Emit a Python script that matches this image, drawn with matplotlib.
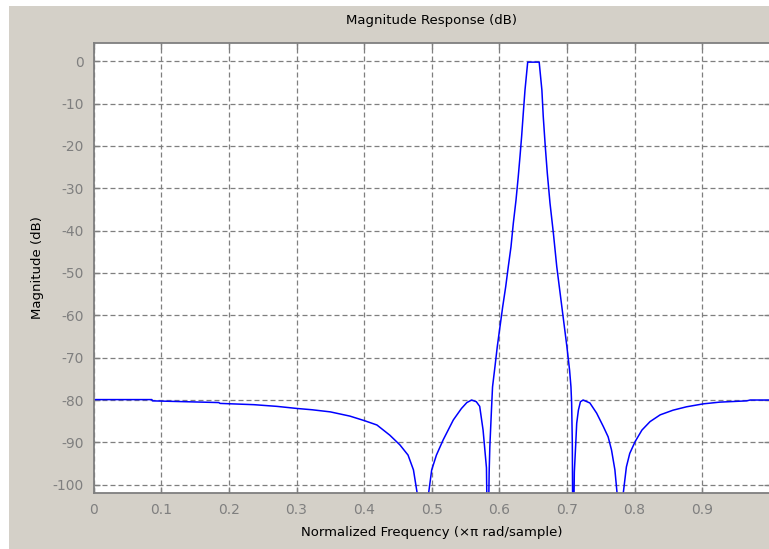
import matplotlib
matplotlib.use("Agg")
import matplotlib.pyplot as plt
from matplotlib.patches import Rectangle

# magnitude response (normalized freq, dB)
freq = [0.000, 0.086, 0.087, 0.185, 0.187, 0.237, 0.271, 0.301, 0.323, 0.350,
        0.379, 0.401, 0.419, 0.438, 0.453, 0.465, 0.473, 0.479, 0.487, 0.495,
        0.500, 0.507, 0.517, 0.532, 0.544, 0.552, 0.559, 0.566, 0.571, 0.576,
        0.581, 0.583, 0.585, 0.586, 0.5885, 0.590, 0.5936, 0.597, 0.601, 0.605,
        0.6095, 0.6133, 0.6173, 0.6207, 0.6247, 0.628, 0.6306, 0.633, 0.6355, 0.638,
        0.642, 0.659, 0.663, 0.665, 0.668, 0.671, 0.675, 0.680, 0.685, 0.690,
        0.695, 0.700, 0.704, 0.706, 0.707, 0.708, 0.709, 0.711, 0.713, 0.7145,
        0.717, 0.720, 0.724, 0.734, 0.744, 0.754, 0.761, 0.766, 0.771, 0.7745,
        0.779, 0.783, 0.7845, 0.788, 0.793, 0.801, 0.811, 0.823, 0.838, 0.857,
        0.877, 0.902, 0.926, 0.966, 0.971, 1.000]
mag_db = [-79.9, -79.9, -80.2, -80.6, -80.8, -81.1, -81.5, -82.0, -82.3, -82.8,
          -83.8, -84.9, -85.9, -88.3, -90.6, -93.0, -96.5, -102.5, -120.0, -102.5,
          -96.5, -93.0, -89.4, -84.7, -82.0, -80.6, -80.0, -80.4, -81.5, -87.1,
          -96.0, -120.0, -97.0, -91.0, -82.0, -76.9, -72.1, -67.4, -62.7, -58.0,
          -53.2, -48.5, -43.8, -38.3, -32.8, -27.3, -22.5, -17.8, -12.2, -6.8,
          -0.2, -0.2, -6.8, -13.0, -20.1, -26.4, -33.5, -40.6, -48.5, -54.8,
          -61.1, -67.4, -73.0, -76.9, -80.7, -90.0, -120.0, -97.0, -90.6, -85.5,
          -82.4, -80.4, -80.0, -80.7, -83.1, -86.3, -88.7, -91.8, -96.5, -102.5,
          -120.0, -102.5, -100.5, -95.8, -92.6, -89.8, -87.1, -85.1, -83.5, -82.4,
          -81.6, -80.9, -80.5, -80.2, -80.0, -80.0]

xticks = [0, 0.1, 0.2, 0.3, 0.4, 0.5, 0.6, 0.7, 0.8, 0.9]
xtick_labels = ["0", "0.1", "0.2", "0.3", "0.4", "0.5", "0.6", "0.7", "0.8", "0.9"]
yticks = [0, -10, -20, -30, -40, -50, -60, -70, -80, -90, -100]

plt.rcParams.update({
    "font.family": "DejaVu Sans",
    "font.size": 9,
    "axes.unicode_minus": False,
})

W, H = 769, 549
fig = plt.figure(figsize=(W / 100, H / 100), dpi=100, facecolor="white")
# grey window panel
fig.patches.append(Rectangle((9 / W, 0), 1, (H - 6) / H, transform=fig.transFigure,
                             facecolor="#d4d0c8", edgecolor="none", zorder=-1))

ax = fig.add_axes([93.7 / W, 1 - 493 / H, 676 / W, 450 / H])
ax.set_facecolor("white")
ax.plot(freq, mag_db, color="#0000ff", linewidth=1.1)

ax.set_xlim(0, 1)
ax.set_ylim(-101.96, 4.32)
ax.set_xticks(xticks)
ax.set_xticklabels(xtick_labels)
ax.set_yticks(yticks)

ax.grid(True, color="#7f7f7f", linestyle=(0, (4, 2.4)), linewidth=0.9)
ax.tick_params(direction="in", length=4, width=1, colors="#7f7f7f",
               top=True, right=True, pad=7, labelsize=10, labelcolor="#7f7f7f")
for s in ax.spines.values():
    s.set_color("#7f7f7f")
    s.set_linewidth(1.3)

ax.set_title("Magnitude Response (dB)", fontsize=9.5, color="black", pad=14)
ax.set_xlabel("Normalized Frequency (\u00d7\u03c0 rad/sample)", fontsize=9.5,
              color="black", labelpad=7)
ax.set_ylabel("Magnitude (dB)", fontsize=9.5, color="black", labelpad=6)

fig.savefig("out.png", dpi=100, facecolor=fig.get_facecolor())
